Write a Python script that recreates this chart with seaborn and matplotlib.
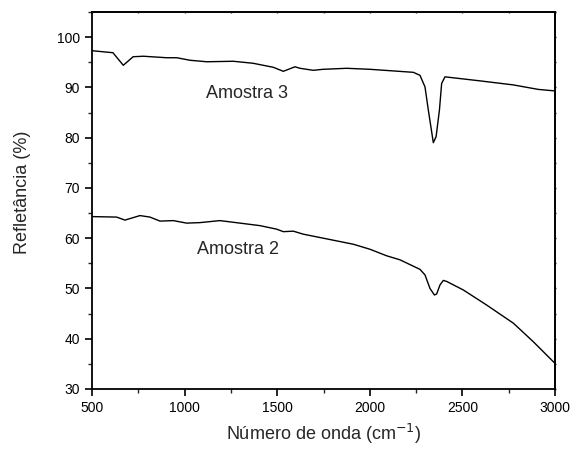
import matplotlib
matplotlib.use("Agg")
import matplotlib.pyplot as plt
import seaborn as sns
import pandas as pd
from matplotlib.ticker import MultipleLocator

# Amostra 3 spectrum (wavenumber, reflectance %)
x3 = [500, 613, 669, 722, 777, 904, 958, 1029, 1120, 1263, 1370, 1479, 1533,
      1596, 1623, 1695, 1748, 1875, 2001, 2235, 2271, 2298, 2316, 2343, 2358,
      2376, 2388, 2406, 2595, 2774, 2910, 3000]
y3 = [97.3, 96.9, 94.4, 96.1, 96.2, 95.9, 95.9, 95.4, 95.1, 95.2, 94.8, 94.0, 93.2,
      94.1, 93.8, 93.4, 93.6, 93.8, 93.6, 93.0, 92.4, 90.1, 85.5, 79.0, 80.2,
      85.5, 90.8, 92.1, 91.3, 90.5, 89.6, 89.3]

# Amostra 2 spectrum
x2 = [500, 633, 678, 759, 813, 867, 939, 1011, 1083, 1191, 1299, 1407, 1497,
      1533, 1587, 1641, 1749, 1911, 2001, 2091, 2163, 2271, 2298, 2325, 2349,
      2361, 2379, 2397, 2415, 2505, 2631, 2775, 2883, 3000]
y2 = [64.3, 64.2, 63.6, 64.5, 64.2, 63.4, 63.5, 63.0, 63.1, 63.5, 63.0, 62.5, 61.8,
      61.3, 61.4, 60.8, 60.0, 58.8, 57.8, 56.5, 55.7, 53.8, 52.7, 50.0, 48.7,
      48.9, 50.7, 51.6, 51.4, 49.7, 46.7, 43.1, 39.4, 35.1]

labels = ["Amostra 3", "Amostra 2"]
label_pos = [(1337, 88.8), (1290, 57.7)]

sns.set_style("ticks")
plt.rcParams['font.family'] = ['Liberation Sans', 'DejaVu Sans']

fig = plt.figure(figsize=(5.72, 4.5), dpi=100)
ax = fig.add_axes([92/572, 1 - 389/450, (555-92)/572, (389-12)/450])

df3 = pd.DataFrame({"x": x3, "y": y3})
df2 = pd.DataFrame({"x": x2, "y": y2})
sns.lineplot(data=df3, x="x", y="y", ax=ax, color="black", linewidth=1.0)
sns.lineplot(data=df2, x="x", y="y", ax=ax, color="black", linewidth=1.0)

for lab, (lx, ly) in zip(labels, label_pos):
    ax.text(lx, ly, lab, ha="center", va="center", fontsize=13)

ax.set_xlim(500, 3000)
ax.set_ylim(30, 105)
ax.xaxis.set_major_locator(MultipleLocator(500))
ax.xaxis.set_minor_locator(MultipleLocator(250))
ax.yaxis.set_major_locator(MultipleLocator(10))
ax.yaxis.set_minor_locator(MultipleLocator(5))

for s in ax.spines.values():
    s.set_linewidth(1.3)
    s.set_color("black")

ax.tick_params(which="major", length=5, width=1.2, labelsize=10, colors="black",
               direction="out")
ax.tick_params(which="minor", length=3, width=1.0, direction="out")

# very short mirror ticks on top/right
secx = ax.secondary_xaxis("top")
secx.xaxis.set_major_locator(MultipleLocator(250))
secx.tick_params(length=1.5, width=1.0, direction="inout", labeltop=False)
secy = ax.secondary_yaxis("right")
secy.yaxis.set_major_locator(MultipleLocator(5))
secy.tick_params(length=1.5, width=1.0, direction="inout", labelright=False)
for sa in (secx, secy):
    for s in sa.spines.values():
        s.set_linewidth(1.3)

ax.set_xlabel("Número de onda (cm$^{-1}$)", fontsize=13, labelpad=5)
ax.set_ylabel("Refletância (%)", fontsize=13, labelpad=19, y=0.522)

fig.savefig("out.png", dpi=100, facecolor="white")
